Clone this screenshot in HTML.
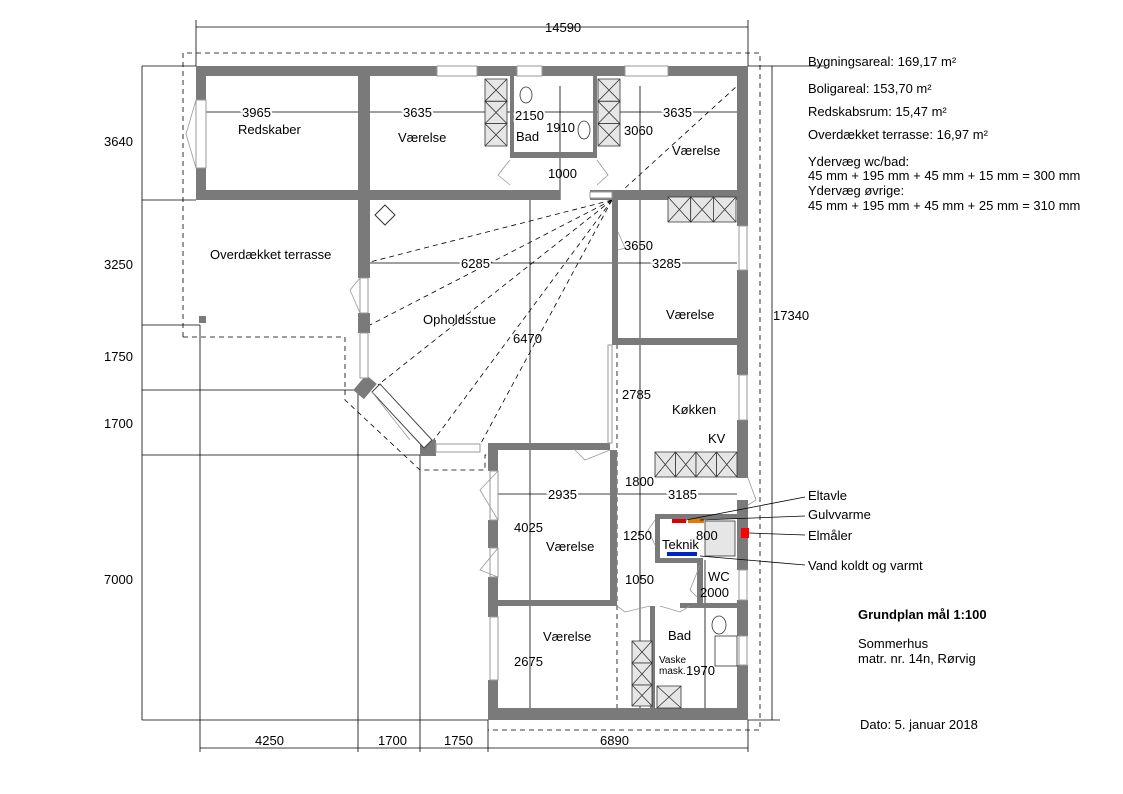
<!DOCTYPE html>
<html><head><meta charset="utf-8">
<style>
body{margin:0;background:#fff;}
svg{display:block;font-family:"Liberation Sans",sans-serif;}
text{font-size:13px;fill:#000;}
.w{fill:#7a7a7a;}
.win{fill:#fff;stroke:#999;stroke-width:1;}
.d{stroke:#000;stroke-width:0.8;fill:none;}
.ds{stroke:#000;stroke-width:0.8;fill:none;stroke-dasharray:5,4;}
.cab{fill:#e6e6e6;stroke:#333;stroke-width:0.8;}
.dr{stroke:#999;stroke-width:0.8;fill:none;}
.h{paint-order:stroke;stroke:#fff;stroke-width:4;}
</style></head><body>
<svg width="1123" height="794" viewBox="0 0 1123 794">
<defs>
<g id="cell"><rect x="0" y="0" width="1" height="1" class="cab" vector-effect="non-scaling-stroke"/><path d="M0 0L1 1M1 0L0 1" stroke="#333" stroke-width="0.8" vector-effect="non-scaling-stroke"/></g>
</defs>
<g class="d">
<line x1="196" y1="27" x2="748" y2="27"/>
<line x1="196" y1="20" x2="196" y2="66"/><line x1="748" y1="20" x2="748" y2="66"/>
<line x1="142" y1="66" x2="142" y2="720"/>
<line x1="142" y1="66" x2="196" y2="66"/>
<line x1="142" y1="200" x2="196" y2="200"/>
<line x1="142" y1="325" x2="200" y2="325"/>
<line x1="142" y1="390" x2="360" y2="390"/>
<line x1="142" y1="455" x2="420" y2="455"/>
<line x1="142" y1="720" x2="488" y2="720"/>
<line x1="200" y1="325" x2="200" y2="752"/>
<line x1="358" y1="390" x2="358" y2="752"/>
<line x1="420" y1="455" x2="420" y2="752"/>
<line x1="488" y1="720" x2="488" y2="752"/>
<line x1="748" y1="720" x2="748" y2="752"/>
<line x1="200" y1="748" x2="748" y2="748"/>
<line x1="748" y1="66" x2="826" y2="66"/>
<line x1="748" y1="720" x2="780" y2="720"/>
<line x1="772" y1="66" x2="772" y2="720"/>
</g>
<g class="ds">
<polyline points="183,337 183,53 760,53 760,730 488,730"/>
<polyline points="183,337 345,337 345,390"/>
<polyline points="345,390 345,400 420,470 485,470 485,455 488,455"/>
<line x1="617" y1="200" x2="617" y2="720"/>
<line x1="612" y1="200" x2="370" y2="262"/>
<line x1="612" y1="200" x2="370" y2="325"/>
<line x1="612" y1="200" x2="378" y2="385"/>
<line x1="612" y1="200" x2="430" y2="445"/>
<line x1="612" y1="200" x2="480" y2="445"/>
<line x1="612" y1="200" x2="737" y2="86"/>
</g>
<g class="d">
<line x1="206" y1="112" x2="737" y2="112"/>
<line x1="370" y1="263" x2="737" y2="263"/>
<line x1="530" y1="200" x2="530" y2="720"/>
<line x1="560" y1="86" x2="560" y2="200"/>
<line x1="640" y1="86" x2="640" y2="720"/>
<line x1="498" y1="494" x2="737" y2="494"/>
<line x1="705" y1="560" x2="705" y2="708"/>
</g>
<g class="w">
<rect x="196" y="66" width="241" height="10"/>
<rect x="477" y="66" width="40" height="10"/>
<rect x="542" y="66" width="83" height="10"/>
<rect x="668" y="66" width="80" height="10"/>
<rect x="196" y="66" width="10" height="34"/>
<rect x="196" y="168" width="10" height="32"/>
<rect x="358" y="76" width="12" height="124"/>
<rect x="196" y="190" width="364" height="10"/>
<rect x="590" y="190" width="158" height="10"/>
<rect x="358" y="200" width="12" height="78"/>
<rect x="358" y="313" width="12" height="20"/>
<rect x="358" y="377" width="14" height="20" transform="rotate(40 365 387)"/>
<rect x="420" y="440" width="16" height="16"/>
<rect x="488" y="443" width="122" height="7"/>
<rect x="488" y="443" width="10" height="28"/>
<rect x="488" y="520" width="10" height="28"/>
<rect x="488" y="577" width="10" height="40"/>
<rect x="488" y="680" width="10" height="40"/>
<rect x="488" y="708" width="260" height="12"/>
<rect x="737" y="66" width="11" height="160"/>
<rect x="737" y="270" width="11" height="105"/>
<rect x="737" y="420" width="11" height="58"/>
<rect x="737" y="500" width="11" height="70"/>
<rect x="737" y="600" width="11" height="36"/>
<rect x="737" y="665" width="11" height="55"/>
<rect x="510" y="76" width="4" height="80"/>
<rect x="593" y="76" width="4" height="80"/>
<rect x="510" y="152" width="87" height="6"/>
<rect x="612" y="200" width="6" height="140"/>
<rect x="612" y="338" width="128" height="7"/>
<rect x="610" y="450" width="7" height="155"/>
<rect x="488" y="600" width="129" height="6"/>
<rect x="655" y="514" width="85" height="5"/>
<rect x="655" y="514" width="5" height="48"/>
<rect x="655" y="558" width="45" height="5"/>
<rect x="697" y="558" width="6" height="50"/>
<rect x="680" y="603" width="60" height="5"/>
<rect x="650" y="606" width="5" height="102"/>
</g>
<g class="win">
<rect x="437" y="66" width="40" height="10"/><rect x="517" y="66" width="25" height="10"/><rect x="625" y="66" width="43" height="10"/>
<rect x="196" y="100" width="10" height="68"/>
<rect x="360" y="278" width="8" height="35"/><rect x="360" y="333" width="8" height="45"/>
<rect x="436" y="444" width="44" height="8"/>
<rect x="739" y="226" width="8" height="44"/><rect x="739" y="375" width="8" height="45"/>
<rect x="490" y="471" width="8" height="49"/><rect x="490" y="548" width="8" height="29"/><rect x="490" y="617" width="8" height="63"/>
<rect x="739" y="570" width="8" height="30"/><rect x="739" y="636" width="8" height="29"/>
<rect x="590" y="192" width="22" height="6"/>
<rect x="608" y="345" width="4" height="98"/>
</g>
<polygon points="372,392 380,384 432,440 424,448" fill="#fff" stroke="#444" stroke-width="1"/>
<g class="dr">
<polyline points="196,100 186,134 196,168"/>
<polyline points="360,278 350,290 360,313"/>
<polyline points="498,548 480,570 498,577"/>
<polyline points="498,471 480,490 498,520"/>
<polyline points="575,450 585,460 610,450"/>
<polyline points="617,606 625,612 650,606"/>
<polyline points="660,606 680,612 690,606"/>
<polyline points="618,232 625,248 618,250"/>
<polyline points="655,545 648,530 655,520"/>
<polyline points="700,565 690,590 697,597"/>
<polyline points="748,478 756,500 748,505"/>
<polyline points="510,160 498,175 510,185"/>
<polyline points="597,160 608,175 597,185"/>
<line x1="372" y1="392" x2="410" y2="440"/>
</g>
<g>
<use href="#cell" transform="translate(485,79) scale(22,22.3)"/><use href="#cell" transform="translate(485,101.3) scale(22,22.3)"/><use href="#cell" transform="translate(485,123.6) scale(22,22.4)"/>
<use href="#cell" transform="translate(598,79) scale(22,22.3)"/><use href="#cell" transform="translate(598,101.3) scale(22,22.3)"/><use href="#cell" transform="translate(598,123.6) scale(22,22.4)"/>
<use href="#cell" transform="translate(668,197) scale(22.7,25)"/><use href="#cell" transform="translate(690.7,197) scale(22.7,25)"/><use href="#cell" transform="translate(713.4,197) scale(22.6,25)"/>
<use href="#cell" transform="translate(655,452) scale(20.5,25)"/><use href="#cell" transform="translate(675.5,452) scale(20.5,25)"/><use href="#cell" transform="translate(696,452) scale(20.5,25)"/><use href="#cell" transform="translate(716.5,452) scale(20.5,25)"/>
<use href="#cell" transform="translate(632,641) scale(20,22)"/><use href="#cell" transform="translate(632,663) scale(20,22)"/><use href="#cell" transform="translate(632,685) scale(20,21)"/>
<use href="#cell" transform="translate(657,686) scale(24,22)"/>
</g>
<rect x="705" y="521" width="30" height="35" class="cab"/>
<rect x="715" y="636" width="22" height="30" fill="#fff" stroke="#333" stroke-width="0.8"/>
<ellipse cx="526" cy="95" rx="6" ry="8" fill="none" stroke="#333" stroke-width="0.8"/>
<ellipse cx="584" cy="130" rx="6" ry="9" fill="none" stroke="#333" stroke-width="0.8"/>
<ellipse cx="719" cy="625" rx="7" ry="9" fill="none" stroke="#333" stroke-width="0.8"/>
<rect x="672" y="519" width="14" height="4" fill="#d00"/>
<rect x="688" y="519" width="16" height="4" fill="#e87800"/>
<rect x="667" y="552" width="30" height="4" fill="#0022cc"/>
<rect x="741" y="528" width="8" height="10" fill="#f00"/>
<polygon points="385,205 395,215 385,225 375,215" fill="none" stroke="#333"/>
<g class="d">
<line x1="686" y1="520" x2="805" y2="497"/>
<line x1="700" y1="520" x2="805" y2="516"/>
<line x1="749" y1="533" x2="805" y2="535"/>
<line x1="700" y1="556" x2="805" y2="565"/>
</g>
<g>
<text x="545" y="32">14590</text>
<text x="104" y="146">3640</text><text x="104" y="269">3250</text><text x="104" y="361">1750</text><text x="104" y="428">1700</text><text x="104" y="584">7000</text>
<text x="255" y="745">4250</text><text x="378" y="745">1700</text><text x="444" y="745">1750</text><text x="600" y="745">6890</text>
<text x="773" y="320">17340</text>
<text x="242" y="117" class="h">3965</text>
<text x="403" y="117" class="h">3635</text>
<text x="515" y="120" class="h">2150</text><text x="546" y="132">1910</text><text x="624" y="135">3060</text>
<text x="663" y="117" class="h">3635</text>
<text x="548" y="178">1000</text>
<text x="238" y="134">Redskaber</text><text x="398" y="142">Værelse</text><text x="516" y="141">Bad</text><text x="672" y="155">Værelse</text>
<text x="210" y="259">Overdækket terrasse</text>
<text x="461" y="268" class="h">6285</text>
<text x="652" y="268" class="h">3285</text>
<text x="624" y="250">3650</text>
<text x="423" y="324">Opholdsstue</text><text x="666" y="319">Værelse</text>
<text x="513" y="343">6470</text><text x="622" y="399">2785</text><text x="672" y="414">Køkken</text><text x="708" y="443">KV</text>
<text x="548" y="499" class="h">2935</text>
<text x="668" y="499" class="h">3185</text>
<text x="625" y="486">1800</text>
<text x="514" y="532">4025</text><text x="546" y="551">Værelse</text>
<text x="623" y="540">1250</text><text x="696" y="540">800</text><text x="662" y="549">Teknik</text>
<text x="625" y="584">1050</text><text x="708" y="581">WC</text><text x="700" y="597">2000</text>
<text x="543" y="641">Værelse</text><text x="668" y="640">Bad</text><text x="514" y="666">2675</text>
<text x="659" y="663" style="font-size:10px">Vaske</text><text x="659" y="674" style="font-size:10px">mask.</text><text x="686" y="675">1970</text>
<text x="808" y="500">Eltavle</text><text x="808" y="519">Gulvvarme</text><text x="808" y="540">Elmåler</text><text x="808" y="570">Vand koldt og varmt</text>
<text x="808" y="66">Bygningsareal: 169,17 m²</text>
<text x="808" y="93">Boligareal: 153,70 m²</text>
<text x="808" y="116">Redskabsrum: 15,47 m²</text>
<text x="808" y="139">Overdækket terrasse: 16,97 m²</text>
<text x="808" y="166">Ydervæg wc/bad:</text>
<text x="808" y="180">45 mm + 195 mm + 45 mm + 15 mm = 300 mm</text>
<text x="808" y="195">Ydervæg øvrige:</text>
<text x="808" y="210">45 mm + 195 mm + 45 mm + 25 mm = 310 mm</text>
<text x="858" y="619" style="font-weight:bold">Grundplan mål 1:100</text>
<text x="858" y="648">Sommerhus</text>
<text x="858" y="663">matr. nr. 14n, Rørvig</text>
<text x="860" y="729">Dato: 5. januar 2018</text>
</g>
<rect x="199" y="316" width="7" height="7" fill="#7a7a7a"/>
</svg>
</body></html>
